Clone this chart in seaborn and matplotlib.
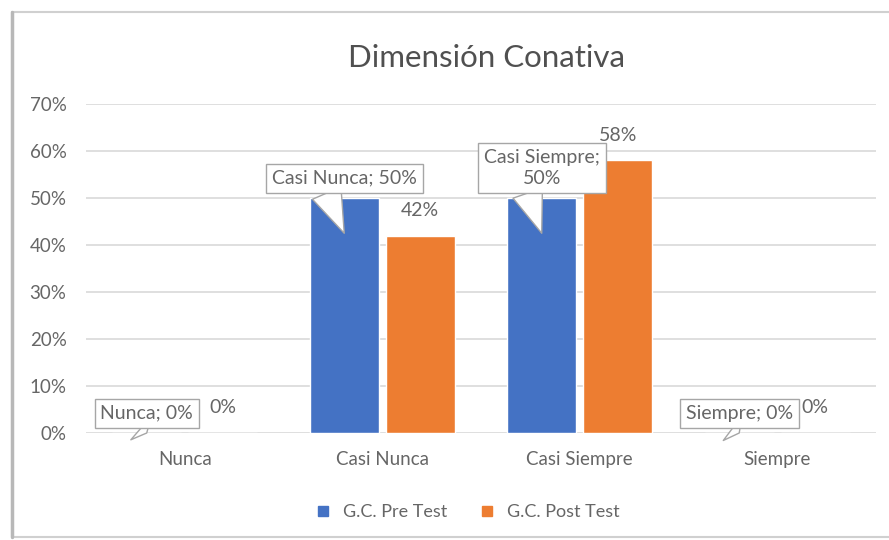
import numpy as np
import pandas as pd
import matplotlib
matplotlib.use('Agg')
import matplotlib.pyplot as plt
import seaborn as sns
from matplotlib.patches import Rectangle
from matplotlib.lines import Line2D
from matplotlib.ticker import PercentFormatter

categories = ['Nunca', 'Casi Nunca', 'Casi Siempre', 'Siempre']
series_names = ['G.C. Pre Test', 'G.C. Post Test']
pre_test = [0.0, 0.50, 0.50, 0.0]
post_test = [0.0, 0.42, 0.58, 0.0]
y_ticks = [0.0, 0.1, 0.2, 0.3, 0.4, 0.5, 0.6, 0.7]

colors = ['#4472C4', '#ED7D31']
text_gray = '#666666'

df = pd.DataFrame({
    'Categoria': categories * 2,
    'Serie': [series_names[0]] * len(categories) + [series_names[1]] * len(categories),
    'Valor': pre_test + post_test,
})

sns.set_theme(style='white')
plt.rcParams['font.family'] = ['Lato', 'DejaVu Sans']

fig = plt.figure(figsize=(8.89, 5.4), dpi=100)
ax = fig.add_axes([86 / 889, 1 - 433 / 540, 790 / 889, (433 - 104) / 540])

sns.barplot(data=df, x='Categoria', y='Valor', hue='Serie', order=categories,
            hue_order=series_names, palette=colors, width=0.77, gap=0.09,
            saturation=1, ax=ax, legend=False, zorder=2)

ax.set_ylim(0, 0.7)
ax.set_yticks(y_ticks)
ax.yaxis.set_major_formatter(PercentFormatter(1.0, decimals=0))
ax.grid(axis='y', color='#d9d9d9', linewidth=1.2, zorder=0)
ax.set_axisbelow(True)
for s in ax.spines.values():
    s.set_visible(False)
ax.set_xlabel('')
ax.set_ylabel('')
ax.tick_params(axis='both', length=0, colors=text_gray, labelsize=13.5)
ax.tick_params(axis='x', pad=13)
ax.tick_params(axis='y', pad=14)

fig.text(487 / 889, 1 - 58 / 540, 'Dimensión Conativa', ha='center', va='center',
         fontsize=22.5, color='#505050')

# value labels for the post test bars
post_container = ax.containers[1]
ax.bar_label(post_container, labels=[f'{v:.0%}' for v in post_test], padding=12,
             fontsize=14, color=text_gray, zorder=3)

# callout labels for the pre test bars
pre_container = ax.containers[0]
callout_text = {
    'Casi Siempre': 'Casi Siempre;\n50%',
}
for patch, cat, val in zip(pre_container.patches, categories, pre_test):
    xc = patch.get_x() + patch.get_width() / 2
    label = callout_text.get(cat, f'{cat}; {val:.0%}')
    tip = val - 0.075 if val > 0 else val
    ax.annotate(label, xy=(xc, tip), xytext=(xc, val + 0.024),
                ha='center', va='bottom', fontsize=14, color=text_gray,
                multialignment='center', zorder=5, linespacing=1.3,
                bbox=dict(boxstyle='square,pad=0.3', fc='white', ec='#a6a6a6', lw=1),
                arrowprops=dict(arrowstyle='wedge,tail_width=1.6,shrink_factor=0.5',
                                fc='white', ec='#a6a6a6', lw=1, relpos=(0.36, 0.0),
                                shrinkA=0, shrinkB=0))

handles = [Line2D([0], [0], marker='s', linestyle='', markersize=7,
                  markerfacecolor=c, markeredgecolor=c) for c in colors]
fig.legend(handles, series_names, loc='center', bbox_to_anchor=(462 / 889, 1 - 512 / 540),
           ncol=2, frameon=False, fontsize=13, handletextpad=0.1, columnspacing=1.2,
           labelcolor=text_gray)

# chart frame
fig.patches.append(Rectangle((12 / 889, 3 / 540), 1.0, 525 / 540, transform=fig.transFigure,
                             fill=False, ec='#d0d0d0', lw=1.5, zorder=0))
fig.lines.append(Line2D([12 / 889, 12 / 889], [3 / 540, 528 / 540], transform=fig.transFigure,
                        color='#b8b8b8', lw=2.5))

fig.savefig('out.png', dpi=100)
